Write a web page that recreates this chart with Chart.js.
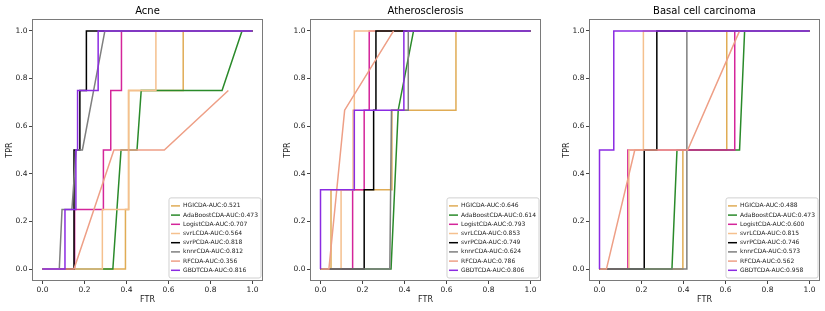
<!DOCTYPE html>
<html>
<head>
<meta charset="utf-8">
<script src="https://cdn.jsdelivr.net/npm/chart.js@4.4.0/dist/chart.umd.min.js"></script>
<style>
  html, body { margin: 0; padding: 0; background: #fff; overflow: hidden; }
  .panel { position: absolute; top: 0; width: 268px; height: 311px; }
</style>
</head>
<body>
<div class="panel" style="left:0px"><canvas id="acne" width="268" height="311"></canvas></div>
<div class="panel" style="left:278px"><canvas id="athero" width="268" height="311"></canvas></div>
<div class="panel" style="left:557px"><canvas id="bcc" width="268" height="311"></canvas></div>
<script>
var models = ['HGICDA', 'AdaBoostCDA', 'LogistCDA', 'svrLCDA', 'svrPCDA', 'knnrCDA', 'RFCDA', 'GBDTCDA'];
var colors = ['#E0AC55', '#2A8A2A', '#D4259A', '#F5C08E', '#000000', '#7F7F7F', '#EE9F86', '#8B2BE2'];
var tickValues = [0, 0.2, 0.4, 0.6, 0.8, 1.0];

// Acne
var acneAuc = [0.521, 0.473, 0.707, 0.564, 0.818, 0.812, 0.356, 0.816];
var acneFpr = [
  [0, 0.395, 0.395, 0.41, 0.41, 0.67, 0.67, 1],
  [0, 0.335, 0.374, 0.45, 0.47, 0.855, 0.95, 1],
  [0, 0.153, 0.153, 0.29, 0.29, 0.325, 0.325, 0.376, 0.376, 1],
  [0, 0.285, 0.285, 0.41, 0.41, 0.54, 0.54, 1],
  [0, 0.15, 0.15, 0.178, 0.178, 0.209, 0.209, 1],
  [0, 0.08, 0.093, 0.14, 0.16, 0.19, 0.297, 1],
  [0, 0.15, 0.34, 0.58, 0.885],
  [0, 0.107, 0.107, 0.159, 0.159, 0.167, 0.167, 0.265, 0.265, 1]
];
var acneTpr = [
  [0, 0, 0.25, 0.25, 0.75, 0.75, 1, 1],
  [0, 0, 0.5, 0.5, 0.75, 0.75, 1, 1],
  [0, 0, 0.25, 0.25, 0.5, 0.5, 0.75, 0.75, 1, 1],
  [0, 0, 0.25, 0.25, 0.75, 0.75, 1, 1],
  [0, 0, 0.5, 0.5, 0.75, 0.75, 1, 1],
  [0, 0, 0.25, 0.25, 0.5, 0.5, 1, 1],
  [0, 0, 0.5, 0.5, 0.75],
  [0, 0, 0.25, 0.25, 0.5, 0.5, 0.75, 0.75, 1, 1]
];

// Atherosclerosis
var athAuc = [0.646, 0.614, 0.793, 0.853, 0.749, 0.624, 0.786, 0.806];
var athFpr = [
  [0, 0.05, 0.05, 0.34, 0.34, 0.645, 0.645, 1],
  [0, 0.336, 0.37, 0.443, 1],
  [0, 0.153, 0.153, 0.208, 0.208, 0.232, 0.232, 1],
  [0, 0.098, 0.098, 0.155, 0.155, 0.161, 0.161, 1],
  [0, 0.208, 0.208, 0.253, 0.253, 0.264, 0.264, 1],
  [0, 0.33, 0.338, 0.418, 0.418, 1],
  [0, 0.04, 0.115, 0.348],
  [0, 0, 0.161, 0.161, 0.397, 0.397, 1]
];
var athTpr = [
  [0, 0, 0.333, 0.333, 0.667, 0.667, 1, 1],
  [0, 0, 0.667, 1, 1],
  [0, 0, 0.333, 0.333, 0.667, 0.667, 1, 1],
  [0, 0, 0.333, 0.333, 0.667, 0.667, 1, 1],
  [0, 0, 0.333, 0.333, 0.667, 0.667, 1, 1],
  [0, 0, 0.667, 0.667, 1, 1],
  [0, 0, 0.667, 1],
  [0, 0.333, 0.333, 0.667, 0.667, 1, 1]
];

// Basal cell carcinoma
var bccAuc = [0.488, 0.473, 0.600, 0.815, 0.746, 0.573, 0.562, 0.958];
var bccFpr = [
  [0, 0.397, 0.397, 0.606, 0.606, 1],
  [0, 0.345, 0.369, 0.667, 0.691, 1],
  [0, 0.135, 0.135, 0.644, 0.644, 1],
  [0, 0.14, 0.14, 0.209, 0.209, 1],
  [0, 0.213, 0.213, 0.273, 0.273, 1],
  [0, 0.412, 0.416, 1],
  [0, 0.033, 0.168, 0.42, 0.667],
  [0, 0, 0.068, 0.068, 1]
];
var bccTpr = [
  [0, 0, 0.5, 0.5, 1, 1],
  [0, 0, 0.5, 0.5, 1, 1],
  [0, 0, 0.5, 0.5, 1, 1],
  [0, 0, 0.5, 0.5, 1, 1],
  [0, 0, 0.5, 0.5, 1, 1],
  [0, 0, 1, 1],
  [0, 0, 0.5, 0.5, 1],
  [0, 0.5, 0.5, 1, 1]
];

var FONT = 'DejaVu Sans';

// axes frame + matplotlib-like legend in the lower right corner
var boxPlugin = {
  id: 'boxAndLegend',
  afterDatasetsDraw: function (chart) {
    var ctx = chart.ctx;
    var a = chart.chartArea;
    ctx.save();
    ctx.strokeStyle = '#7a7a7a';
    ctx.lineWidth = 1;
    ctx.strokeRect(Math.round(a.left) + 0.5, Math.round(a.top) + 0.5,
      Math.round(a.right - a.left) - 1, Math.round(a.bottom - a.top) - 1);

    var items = chart.data.datasets;
    ctx.font = '6px "' + FONT + '"';
    var textW = 0;
    items.forEach(function (d) { textW = Math.max(textW, ctx.measureText(d.label).width); });
    var rowH = 9.2;
    var w = 2 + 9 + 3 + textW + 3;
    var h = items.length * rowH + 6.5;
    var x = a.right - 2 - w;
    var y = a.bottom - 3 - h;
    ctx.fillStyle = 'rgba(255,255,255,0.85)';
    ctx.strokeStyle = '#d0d0d0';
    ctx.beginPath();
    ctx.roundRect(x, y, w, h, 2);
    ctx.fill();
    ctx.stroke();
    ctx.textBaseline = 'middle';
    items.forEach(function (d, i) {
      var cy = y + 3.4 + rowH / 2 + i * rowH;
      ctx.strokeStyle = d.borderColor;
      ctx.lineWidth = 1.5;
      ctx.beginPath();
      ctx.moveTo(x + 2, cy);
      ctx.lineTo(x + 11, cy);
      ctx.stroke();
      ctx.fillStyle = '#222';
      ctx.fillText(d.label, x + 14, cy);
    });
    ctx.restore();
  }
};

function setTicks(scale) {
  scale.ticks = tickValues.map(function (v) { return { value: v }; });
}

function axis(titleText, isX) {
  return {
    type: 'linear',
    min: -0.05,
    max: 1.05,
    afterBuildTicks: setTicks,
    afterFit: function (s) {
      if (isX) s.height = 30; else s.width = 32;
    },
    border: { display: false },
    grid: { drawOnChartArea: false, drawTicks: true, tickLength: 3, color: '#444' },
    ticks: {
      color: '#222',
      padding: 1.5,
      maxRotation: 0,
      autoSkip: false,
      font: { family: FONT, size: 7.5 },
      callback: function (v) { return v.toFixed(1); }
    },
    title: {
      display: true,
      text: titleText,
      color: '#222',
      font: { family: FONT, size: 8 },
      padding: isX ? { top: 0, bottom: 6.2 } : { top: 5.2, bottom: 0 }
    }
  };
}

function makeChart(id, title, fprs, tprs, aucs) {
  var datasets = models.map(function (m, i) {
    return {
      label: m + '-AUC:' + aucs[i].toFixed(3),
      data: fprs[i].map(function (x, j) { return { x: x, y: tprs[i][j] }; }),
      borderColor: colors[i],
      backgroundColor: colors[i],
      borderWidth: 1.5,
      pointRadius: 0,
      fill: false,
      tension: 0,
      order: models.length - i
    };
  });
  return new Chart(document.getElementById(id), {
    type: 'line',
    data: { datasets: datasets },
    options: {
      responsive: false,
      animation: false,
      layout: { padding: { left: 0, right: 5, top: 0, bottom: 0 } },
      plugins: {
        legend: { display: false },
        tooltip: { enabled: false },
        title: {
          display: true,
          text: title,
          fullSize: false,
          color: '#000',
          font: { family: FONT, size: 10, weight: 'normal' },
          padding: { top: 5, bottom: 2 }
        }
      },
      scales: {
        x: axis('FTR', true),
        y: axis('TPR', false)
      }
    },
    plugins: [boxPlugin]
  });
}

makeChart('acne', 'Acne', acneFpr, acneTpr, acneAuc);
makeChart('athero', 'Atherosclerosis', athFpr, athTpr, athAuc);
makeChart('bcc', 'Basal cell carcinoma', bccFpr, bccTpr, bccAuc);
</script>
</body>
</html>
